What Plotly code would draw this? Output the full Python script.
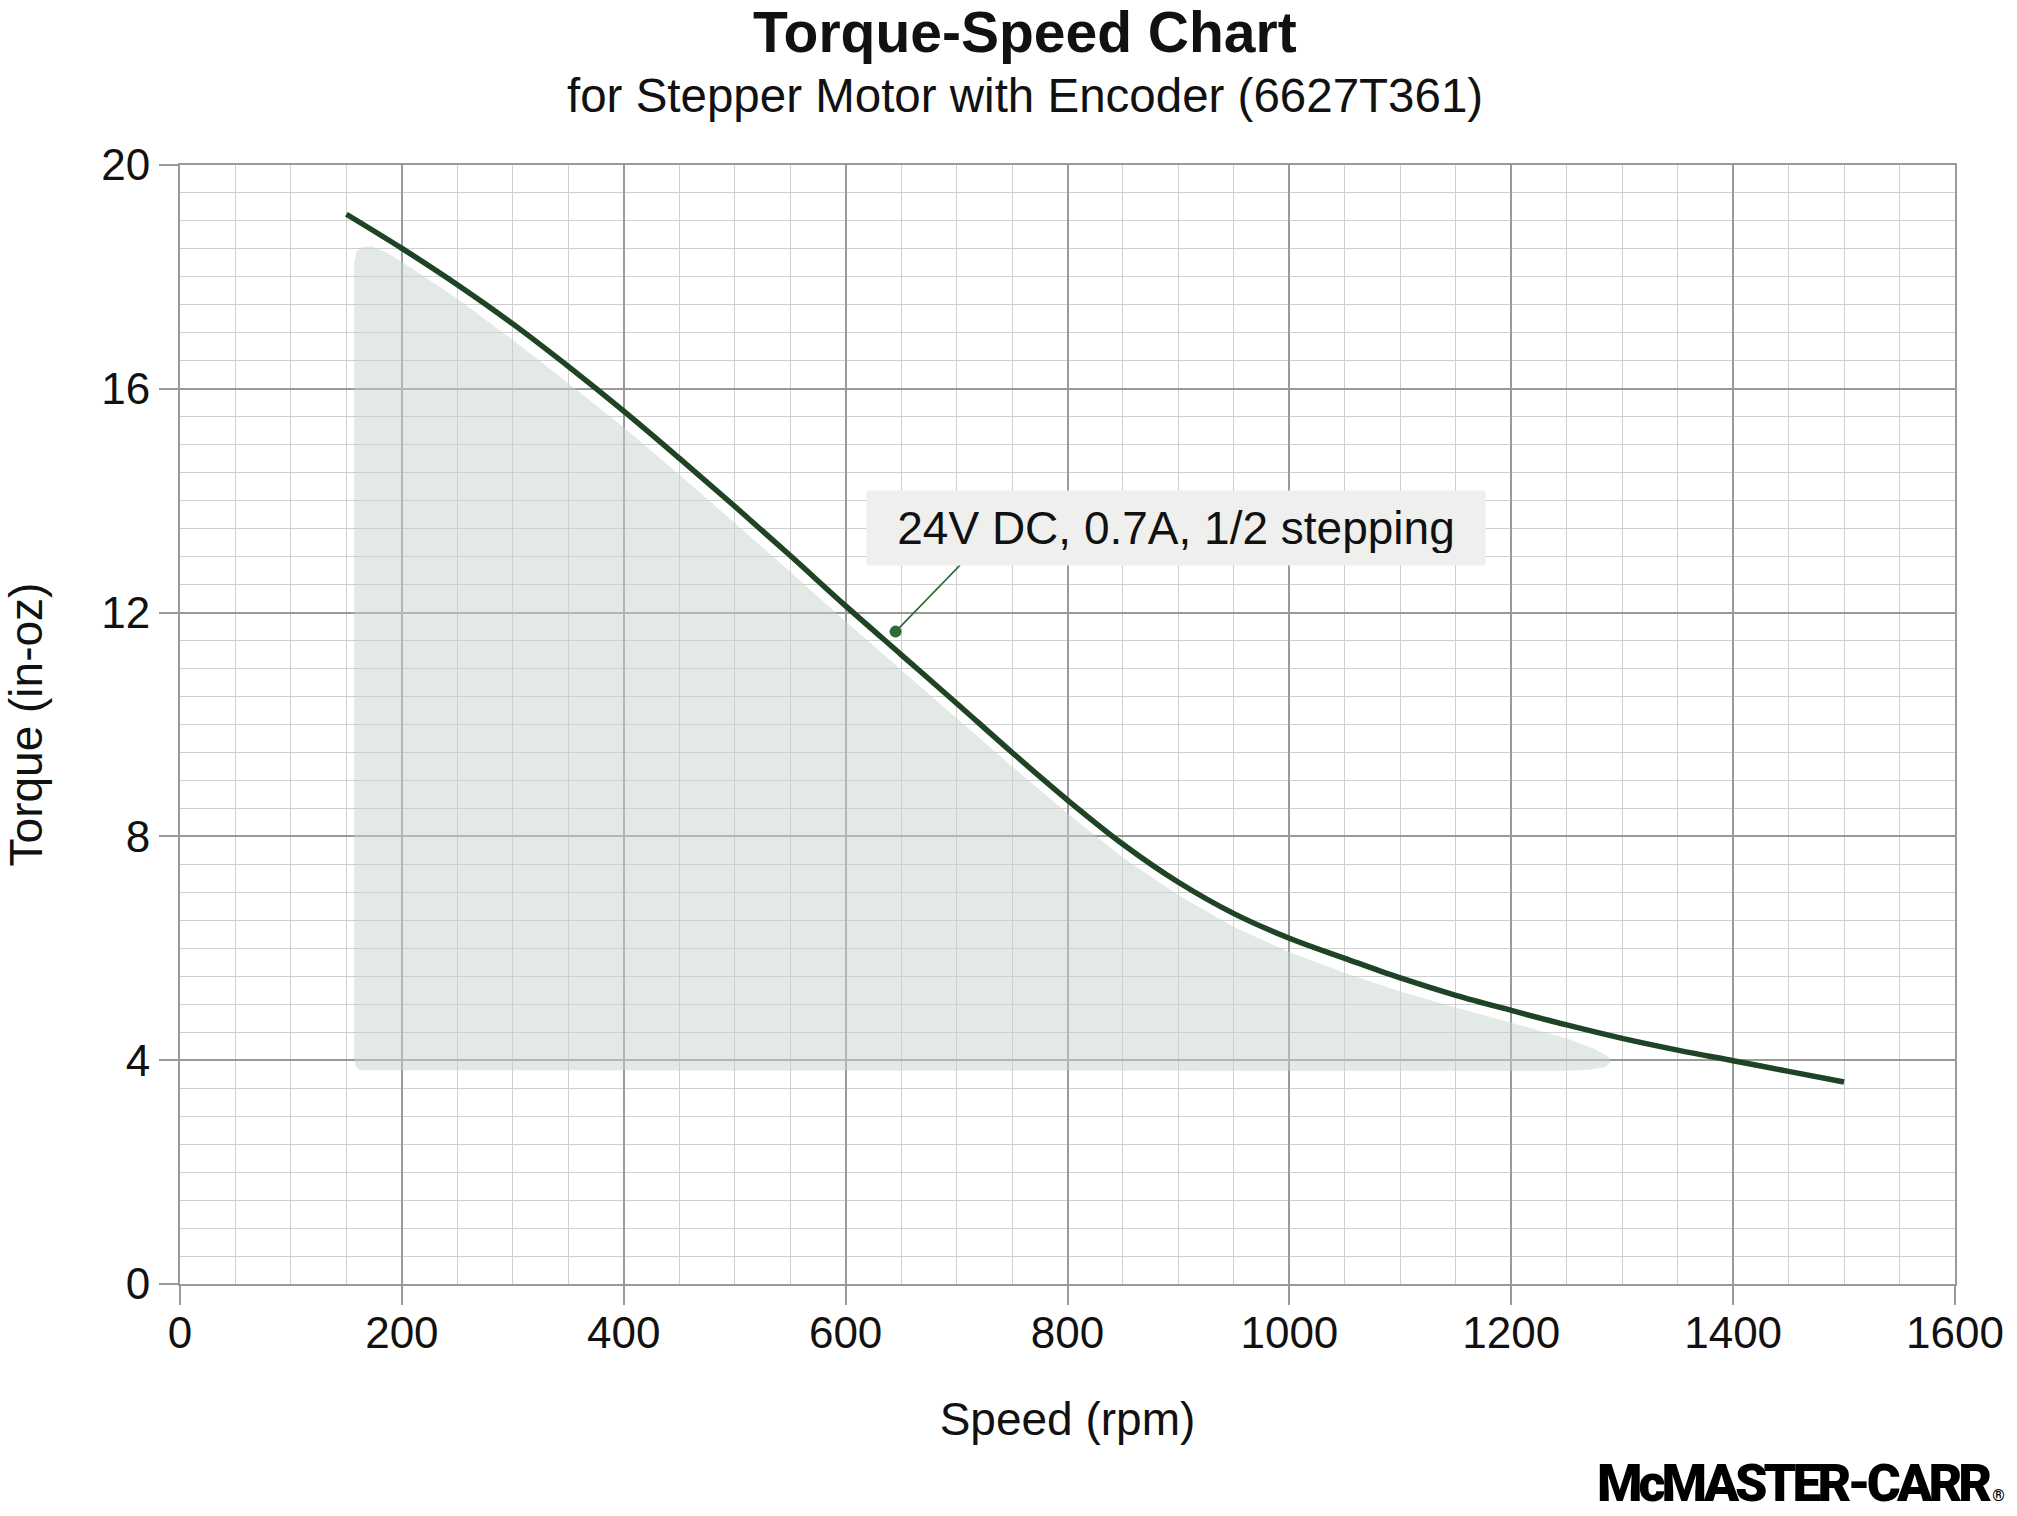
import plotly.graph_objects as go

# ---- data ----
speed_rpm = [150, 200, 250, 300, 350, 400, 450, 500, 550, 600, 650, 700, 750, 800,
             850, 900, 950, 1000, 1050, 1100, 1150, 1200, 1250, 1300, 1350, 1400, 1450, 1500]
torque_inoz = [19.12, 18.51, 17.86, 17.16, 16.4, 15.6, 14.76, 13.9, 13.02, 12.12, 11.25, 10.38,
               9.5, 8.65, 7.86, 7.18, 6.62, 6.18, 5.82, 5.47, 5.16, 4.89, 4.63, 4.39,
               4.18, 3.99, 3.8, 3.61]

# shaded operating region (outline)
shade_x = [162, 158.5, 157, 157, 159, 164, 172, 185, 200, 250, 300, 350, 400, 450, 500, 550,
           600, 650, 700, 750, 800, 850, 900, 950, 1000, 1050, 1100, 1150, 1200, 1250,
           1275, 1286, 1290, 1285, 1270, 1250, 162]
shade_y = [3.82, 3.88, 4.05, 18.25, 18.45, 18.53, 18.55, 18.45, 18.27, 17.61, 16.87, 16.1,
           15.31, 14.47, 13.6, 12.73, 11.84, 10.98, 10.12, 9.25, 8.41, 7.62, 6.95, 6.38, 5.93,
           5.56, 5.23, 4.94, 4.67, 4.39, 4.2, 4.08, 3.98, 3.88, 3.83, 3.81, 3.82]

label_point_x = [645]
label_point_y = [11.66]
label_text = "24V DC, 0.7A, 1/2 stepping"

x_ticks = [0, 200, 400, 600, 800, 1000, 1200, 1400, 1600]
y_ticks = [0, 4, 8, 12, 16, 20]

title_text = "Torque-Speed Chart"
subtitle_text = "for Stepper Motor with Encoder (6627T361)"
x_title = "Speed (rpm)"
y_title = "Torque (in-oz)"
logo_text = "McMASTER-CARR"

# ---- styles ----
FONT = "Liberation Sans, Arial, Helvetica, sans-serif"
LINE_GREEN = "#1f4425"
ANNOT_GREEN = "#2f6b36"
MAJOR = "#9a9a9a"
MINOR = "#cfcfcf"

fig = go.Figure()

fig.add_trace(go.Scatter(
    x=shade_x, y=shade_y, mode="lines", fill="toself",
    fillcolor="rgba(200,212,202,0.5)", line=dict(width=0, color="rgba(0,0,0,0)"),
    hoverinfo="skip", showlegend=False))

fig.add_trace(go.Scatter(
    x=speed_rpm, y=torque_inoz, mode="lines",
    line=dict(color=LINE_GREEN, width=5.5, shape="spline", smoothing=1.0),
    showlegend=False))

fig.add_trace(go.Scatter(
    x=label_point_x, y=label_point_y, mode="markers",
    marker=dict(size=12, color=ANNOT_GREEN), showlegend=False))

# leader line
fig.add_annotation(x=label_point_x[0], y=label_point_y[0], xref="x", yref="y",
                   text="", showarrow=True, arrowhead=0, arrowwidth=1.6,
                   arrowcolor=ANNOT_GREEN, ax=66, ay=-68, standoff=0)
# label box
fig.add_annotation(x=label_point_x[0], y=label_point_y[0], xref="x", yref="y",
                   text=label_text, showarrow=True, arrowcolor="rgba(0,0,0,0)",
                   arrowwidth=0.1, ax=280, ay=-104,
                   width=594, height=50, borderpad=12, bgcolor="#eff0ee",
                   font=dict(family=FONT, size=46, color="#111111"))

# titles
fig.add_annotation(x=0.476, y=1.1185, xref="paper", yref="paper", xanchor="center",
                   yanchor="middle", showarrow=False, borderpad=0,
                   text="<b>" + title_text + "</b>",
                   font=dict(family=FONT, size=57, color="#111111"))
fig.add_annotation(x=0.476, y=1.0625, xref="paper", yref="paper", xanchor="center",
                   yanchor="middle", showarrow=False, text=subtitle_text,
                   font=dict(family=FONT, size=47.5, color="#111111"))

# logo
fig.add_annotation(x=1.029, y=-0.2066, xref="paper", yref="paper", xanchor="right",
                   yanchor="bottom", showarrow=False, borderpad=0,
                   text="<span style='letter-spacing:-4px'>" + logo_text + "</span>"
                        "<span style='font-size:16px'> ®</span>",
                   font=dict(family="Roboto, Liberation Sans", size=52, color="#000000",
                             weight=900))

fig.update_layout(
    width=2017, height=1516,
    margin=dict(l=180, r=62, t=165, b=232),
    paper_bgcolor="white", plot_bgcolor="white",
    font=dict(family=FONT, color="#111111"),
    xaxis=dict(
        range=[0, 1600], tickvals=x_ticks, ticktext=[str(v) for v in x_ticks],
        showgrid=True, gridcolor=MAJOR, gridwidth=2,
        minor=dict(dtick=50, showgrid=True, gridcolor=MINOR, gridwidth=1.2, ticks=""),
        showline=True, linecolor=MAJOR, linewidth=2, mirror=True,
        ticks="outside", ticklen=19, tickwidth=2, tickcolor=MAJOR,
        ticklabelstandoff=-10,
        tickfont=dict(size=44, family=FONT, color="#111111"),
        zeroline=False,
        title=dict(text=x_title, font=dict(size=46, family=FONT, color="#111111"), standoff=47),
    ),
    yaxis=dict(
        range=[0, 20], tickvals=y_ticks, ticktext=[str(v) for v in y_ticks],
        showgrid=True, gridcolor=MAJOR, gridwidth=2,
        minor=dict(dtick=0.5, showgrid=True, gridcolor=MINOR, gridwidth=1.2, ticks=""),
        showline=True, linecolor=MAJOR, linewidth=2, mirror=True,
        ticks="outside", ticklen=19, tickwidth=2, tickcolor=MAJOR,
        tickfont=dict(size=44, family=FONT, color="#111111"),
        zeroline=False,
        title=dict(text=y_title, font=dict(size=46, family=FONT, color="#111111"), standoff=55),
    ),
)

fig.write_html("out.html")
